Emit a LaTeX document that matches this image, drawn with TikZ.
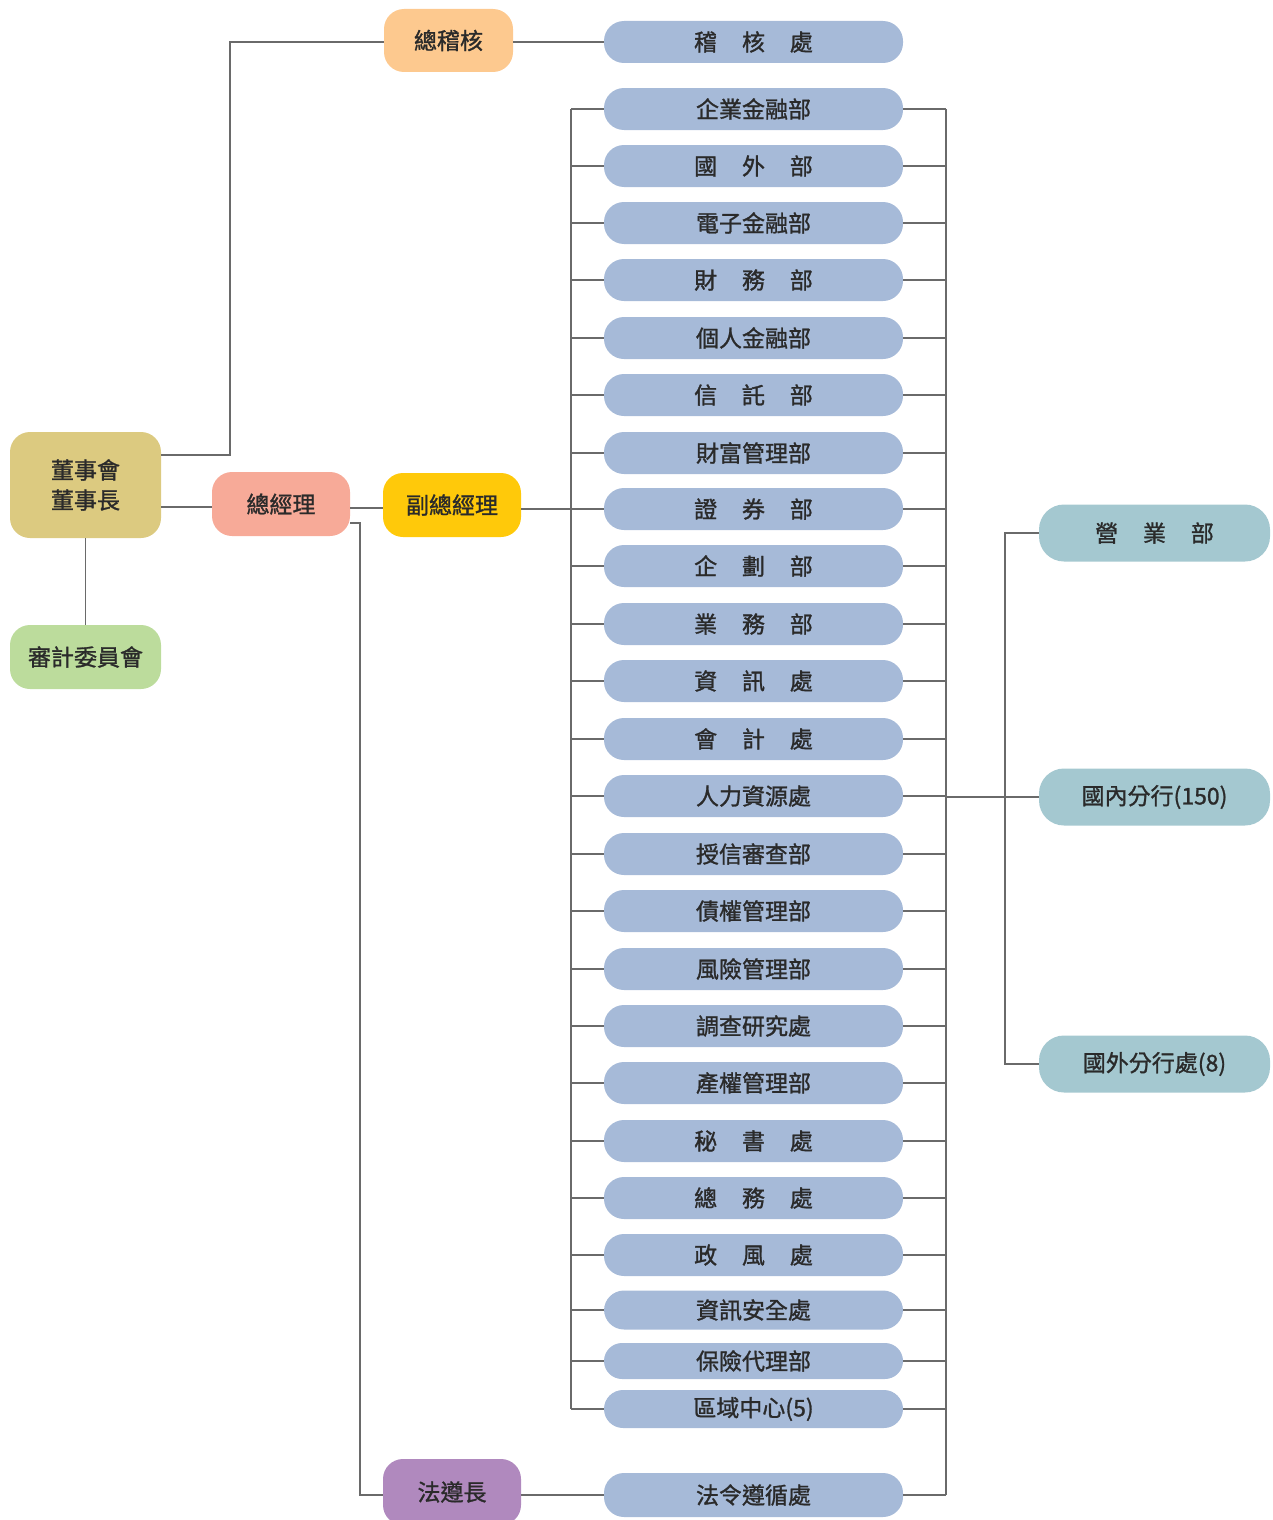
\documentclass[tikz,border=0pt]{standalone}
\usepackage{fontspec}
\setmainfont{Noto Sans CJK TC}
\newfontface\medf{Noto Sans CJK TC}[FakeBold=1.2]
\usetikzlibrary{calc}
\definecolor{ctan}{HTML}{DCCA80}
\definecolor{cgreen}{HTML}{BCDC9C}
\definecolor{csalmon}{HTML}{F7AA98}
\definecolor{cyellow}{HTML}{FFC90A}
\definecolor{corange}{HTML}{FDC98F}
\definecolor{cpurple}{HTML}{B089BE}
\definecolor{cblue}{HTML}{A6BAD8}
\definecolor{cteal}{HTML}{A4C8D0}
\definecolor{cline}{HTML}{6A6A6A}
\definecolor{ctext}{HTML}{2A2A2A}
\newcommand{\gp}{\hspace{1.08em}}
\begin{document}
\begin{tikzpicture}[x=1pt,y=-1pt,
  every node/.style={inner sep=0pt,text=ctext,font=\fontsize{23}{29}\selectfont\medf},
  box/.style={rectangle,rounded corners=20pt,minimum width=#1},
  box/.default=138pt,
  bpill/.style={rectangle,rounded corners=20pt,fill=cblue,minimum width=299pt,minimum height=42pt},
  tpill/.style={rectangle,rounded corners=25pt,fill=cteal,minimum width=231pt,minimum height=57pt},
  conn/.style={draw=cline,line width=1.5pt}]
\useasboundingbox (0,0) rectangle (1273,1520);
% top level boxes
\node[box=151pt,fill=ctan,minimum height=106pt,align=center] (dsh) at (85.5,485) {董事會\\[1pt]董事長};
\node[box=151pt,fill=cgreen,minimum height=64pt] (sjw) at (85.5,657) {審計委員會};
\node[box,fill=csalmon,minimum height=64pt] (zjl) at (281,504) {總經理};
\node[box,fill=cyellow,minimum height=64pt] (fzjl) at (452,505) {副總經理};
\node[box=129pt,fill=corange,minimum height=63pt] (zjh) at (448.5,40.5) {總稽核};
\node[box,fill=cpurple,minimum height=66pt] (fzz) at (452,1492) {法遵長};
% blue pills
\node[bpill] (jhc) at (753.5,42) {稽\gp 核\gp 處};
\node[bpill] (p1) at (753.5,109) {企業金融部};
\node[bpill] (p2) at (753.5,166) {國\gp 外\gp 部};
\node[bpill] (p3) at (753.5,223) {電子金融部};
\node[bpill] (p4) at (753.5,280) {財\gp 務\gp 部};
\node[bpill] (p5) at (753.5,338) {個人金融部};
\node[bpill] (p6) at (753.5,395) {信\gp 託\gp 部};
\node[bpill] (p7) at (753.5,453) {財富管理部};
\node[bpill] (p8) at (753.5,509) {證\gp 券\gp 部};
\node[bpill] (p9) at (753.5,566) {企\gp 劃\gp 部};
\node[bpill] (p10) at (753.5,624) {業\gp 務\gp 部};
\node[bpill] (p11) at (753.5,681) {資\gp 訊\gp 處};
\node[bpill] (p12) at (753.5,739) {會\gp 計\gp 處};
\node[bpill] (p13) at (753.5,796) {人力資源處};
\node[bpill] (p14) at (753.5,854) {授信審查部};
\node[bpill] (p15) at (753.5,911) {債權管理部};
\node[bpill] (p16) at (753.5,969) {風險管理部};
\node[bpill] (p17) at (753.5,1026) {調查研究處};
\node[bpill] (p18) at (753.5,1083) {產權管理部};
\node[bpill] (p19) at (753.5,1141) {秘\gp 書\gp 處};
\node[bpill] (p20) at (753.5,1198) {總\gp 務\gp 處};
\node[bpill] (p21) at (753.5,1255) {政\gp 風\gp 處};
\node[bpill,minimum height=39pt] (p22) at (753.5,1310) {資訊安全處};
\node[bpill,minimum height=36pt,rounded corners=18pt] (p23) at (753.5,1361) {保險代理部};
\node[bpill,minimum height=38pt,rounded corners=19pt] (p24) at (753.5,1409) {區域中心(5)};
\node[bpill,minimum height=44pt] (flz) at (753.5,1495) {法令遵循處};
% teal pills
\node[tpill] (yyb) at (1154.5,533) {營\gp 業\gp 部};
\node[tpill] (gnfh) at (1154.5,797) {國內分行(150)};
\node[tpill] (gwfh) at (1154.5,1064) {國外分行處(8)};
% bus coordinates
\coordinate (lbus) at (571,0);
\coordinate (rbus) at (946,0);
\coordinate (tbus) at (1005,0);
\coordinate (abus) at (230,0);
\coordinate (fbus) at (360,0);
% connectors
\draw[conn] (dsh.east |- 0,455) -- (abus |- 0,455) |- (zjh.west |- jhc.west);
\draw[conn] (zjh.east |- jhc.west) -- (jhc.west);
\draw[conn] (dsh.east |- 0,507) -- (zjl.west |- 0,507);
\draw[conn] (dsh.south) -- (sjw.north);
\draw[conn] (zjl.east |- 0,508) -- (fzjl.west |- 0,508);
\draw[conn] (zjl.east |- 0,523) -- (fbus |- 0,523) |- (fzz.west |- flz.west);
\draw[conn] (fzz.east |- flz.west) -- (flz.west);
\draw[conn] (fzjl.east |- p8.west) -- (p8.west);
\draw[conn] (lbus |- p1.west) -- (lbus |- p24.west);
\draw[conn] (rbus |- p1.east) -- (rbus |- flz.east);
\foreach \p in {p1,p2,p3,p4,p5,p6,p7,p8,p9,p10,p11,p12,p13,p14,p15,p16,p17,p18,p19,p20,p21,p22,p23,p24}{
  \draw[conn] (lbus |- \p.west) -- (\p.west);
  \draw[conn] (\p.east) -- (rbus |- \p.east);
}
\draw[conn] (flz.east) -- (rbus |- flz.east);
\draw[conn] (rbus |- gnfh.west) -- (gnfh.west);
\draw[conn] (yyb.west) -| (tbus |- gwfh.west) -- (gwfh.west);
\end{tikzpicture}
\end{document}
